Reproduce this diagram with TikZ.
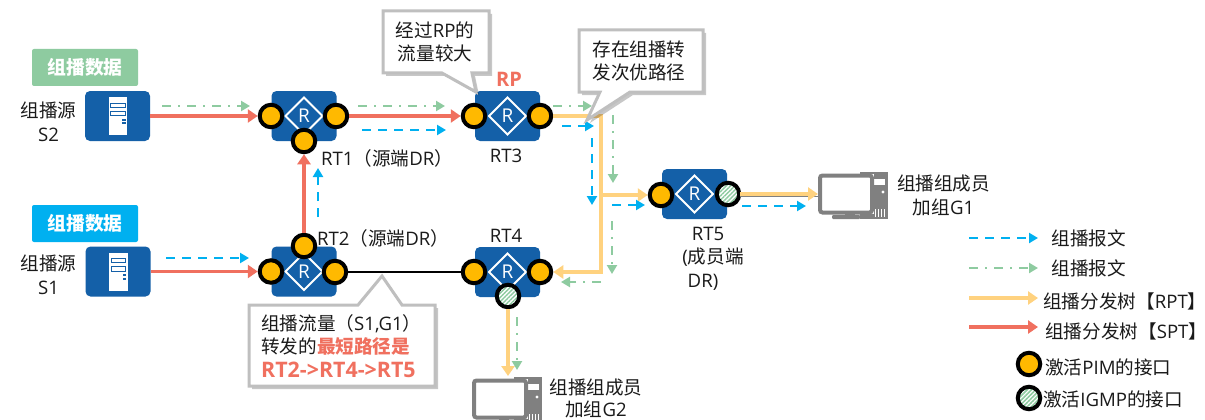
\documentclass[tikz,border=0pt]{standalone}
\usepackage{fontspec}
\setmainfont{Noto Sans CJK SC}
\newfontfamily\lat{Open Sans}
\usetikzlibrary{arrows.meta,patterns.meta}
\definecolor{rblue}{HTML}{1460A8}
\definecolor{cred}{HTML}{F0705F}
\definecolor{cyel}{HTML}{FFD27F}
\definecolor{cgrn}{HTML}{8ECBA0}
\definecolor{cblu}{HTML}{00B0F0}
\definecolor{cport}{HTML}{FFB900}
\definecolor{cbord}{HTML}{BFBFBF}
\definecolor{cpc}{HTML}{808080}
\definecolor{ctxt}{HTML}{1A1A1A}
\tikzset{
  txt/.style={inner sep=0pt,font=\fontsize{18.6pt}{23.5pt}\selectfont,text=ctxt,align=center},
  tag/.style={draw=none,rounded corners=2pt,minimum width=106pt,inner sep=0pt,text=white,font=\fontsize{18.8pt}{22pt}\selectfont\bfseries},
  router/.style={fill=rblue,rounded corners=5pt,minimum width=65pt,minimum height=50pt,inner sep=0pt,text=white,
    font=\lat\fontsize{19pt}{20pt}\selectfont,
    path picture={\draw[sharp corners,white,line width=2pt,line join=miter]
      ([xshift=-18.5pt]path picture bounding box.center) -- ([yshift=18.5pt]path picture bounding box.center)
      -- ([xshift=18.5pt]path picture bounding box.center) -- ([yshift=-18.5pt]path picture bounding box.center) -- cycle;}},
  server/.style={fill=rblue,rounded corners=5pt,minimum width=65pt,minimum height=50pt,inner sep=0pt,
    path picture={
      \begin{scope}[sharp corners]
      \fill[white] ([shift={(-9,-19)}]path picture bounding box.center) rectangle ([shift={(9.5,19)}]path picture bounding box.center);
      \draw[rblue,line width=1pt] ([shift={(-7,-13)}]path picture bounding box.center) rectangle ([shift={(7.5,-8.7)}]path picture bounding box.center);
      \draw[rblue,line width=1pt] ([shift={(-7,-5)}]path picture bounding box.center) rectangle ([shift={(7.5,-0.5)}]path picture bounding box.center);
      \fill[rblue] ([shift={(4.5,2.5)}]path picture bounding box.center) rectangle ([shift={(8,4.5)}]path picture bounding box.center);
      \fill[rblue] ([shift={(4.5,6)}]path picture bounding box.center) rectangle ([shift={(8,8)}]path picture bounding box.center);
      \end{scope}
    }},
  port/.style={circle,draw=black,line width=4pt,fill=cport,minimum size=22.5pt,inner sep=0pt},
  igmp/.style={circle,draw=black,line width=4pt,minimum size=22.5pt,inner sep=0pt,
    preaction={fill=white},pattern={Lines[angle=45,distance=3pt,line width=1.5pt]},pattern color=cgrn},
  redline/.style={draw=cred,line width=3.7pt,-{Triangle[length=10pt,width=13pt]}},
  yelline/.style={draw=cyel,line width=4pt,line join=miter,-{Triangle[length=10pt,width=13pt]}},
  blueline/.style={draw=cblu,line width=2.5pt,dash pattern=on 9pt off 7pt,-{Triangle[length=9pt,width=10pt]}},
  greenline/.style={draw=cgrn,line width=2.3pt,dash pattern=on 9pt off 7pt on 2pt off 7pt,-{Triangle[length=9pt,width=10pt]}},
  calloutbox/.style={draw=cbord,line width=3pt,fill=white,line join=miter},
  calloutshadow/.style={fill=black,opacity=.22},
  pics/pc/.style={code={
    \fill[cpc] (40,-4) rectangle (68,43);
    \fill[white] (53,3) rectangle (65,9);
    \fill[white] (63,16) circle (1.6pt);
    \foreach \q in {55,58,61,64}{\fill[white] (\q,33) rectangle ++(1.4,8);}
    \fill[cpc] (25,36) rectangle (35,40);
    \fill[cpc,rounded corners=1pt] (12,39) rectangle (40,43);
    \node[draw=white,line width=1pt,minimum width=54pt,minimum height=39pt,inner sep=0pt,fill=white] at (26,18) {};
    \node[draw=cpc,line width=4pt,fill=white,rounded corners=2.5pt,minimum width=52pt,minimum height=37pt,inner sep=0pt] (-mon) at (26,18) {};
  }}
}
\begin{document}
\begin{tikzpicture}[x=1pt,y=-1pt]
\path[use as bounding box,fill=white] (0,0) rectangle (1205,420);
\clip (0,0) rectangle (1205,420);

% junctions and free ends
\coordinate (j1) at (601,116);
\coordinate (j2) at (601,195);
\coordinate (j3) at (601,272);
\coordinate (g2top) at (508,376);

% sources and routers
\node[server] (s2) at (117.5,116) {};
\node[server] (s1) at (118,271.5) {};
\node[router] (rt1) at (304,116) {R};
\node[router] (rt3) at (507.5,116) {R};
\node[router] (rt5) at (694.5,194) {R};
\node[router] (rt2) at (304,271.5) {R};
\node[router] (rt4) at (507.5,272) {R};

\pic (pc1) at (820,176) {pc};
\pic (pc2) at (474,381) {pc};

% ports
\node[port] (rt1l) at (271,116) {};
\node[port] (rt1r) at (336,116) {};
\node[port] (rt1b) at (304,141) {};
\node[port] (rt3l) at (474,116) {};
\node[port] (rt3r) at (540,116) {};
\node[port] (rt5l) at (661,195) {};
\node[igmp] (rt5r) at (728,194) {};
\node[port] (rt2l) at (271,271.5) {};
\node[port] (rt2r) at (335,272) {};
\node[port] (rt2t) at (304,246) {};
\node[port] (rt4l) at (474,272) {};
\node[port] (rt4r) at (540,272) {};
\node[igmp] (rt4b) at (508,296) {};

\draw[redline] (s2) -- (rt1l);
\draw[redline] (s1) -- (rt2l);
\draw[redline] (rt1r) -- (rt3l);
\draw[redline] (rt2t) -- (rt1b);
\draw[black,line width=2pt] (rt2r) -- (rt4l);
\draw[yelline] (rt3r) -- (j1) -- (j3) -- (rt4r);
\draw[yelline] (j2) -- (rt5l);
\draw[cpc,line width=1pt] (rt5r.east) ++(0,2) -- ++(81,0);
\draw[yelline] (rt5r) -- (pc1-mon.west);
\draw[yelline] (rt4b) -- (g2top);

% flows
\foreach \n/\ax/\ay/\bx/\by in {a/162/106/250/106,b/358/106/445/106,c/553/106/592/106,d/613/115/613/183,e/612/221/612/274,f/601/282/561/282,g/517/317/517/370,h/969/268/1038/268}{
  \coordinate (gs\n) at (\ax,\ay);
  \coordinate (ge\n) at (\bx,\by);
  \draw[greenline] (gs\n) -- (ge\n);
}
\foreach \n/\ax/\ay/\bx/\by in {a/166/258/249/258,b/362/130/446/130,c/318/217/318/168,d/562/126/594/126,e/592/138/592/205,f/612/205/645/205,g/742/206/806/206,h/969/238/1038/238}{
  \coordinate (bs\n) at (\ax,\ay);
  \coordinate (be\n) at (\bx,\by);
  \draw[blueline] (bs\n) -- (be\n);
}

% callouts
\fill[calloutshadow] (386,14) -- (492,14) -- (492,76) -- (475,76) -- (479,95) -- (445,76) -- (386,76) -- cycle;
\draw[calloutbox] (383,11) -- (489,11) -- (489,73) -- (472,73) -- (476,92) -- (442,73) -- (383,73) -- cycle;
\fill[calloutshadow] (582,33) -- (706,33) -- (706,95) -- (633,95) -- (590,123) -- (603,95) -- (582,95) -- cycle;
\draw[calloutbox] (579,30) -- (703,30) -- (703,92) -- (630,92) -- (587,120) -- (600,92) -- (579,92) -- cycle;
\fill[calloutshadow] (252,308) -- (361,308) -- (385,279) -- (405,308) -- (438,308) -- (438,389) -- (252,389) -- cycle;
\draw[calloutbox] (249,305) -- (358,305) -- (382,276) -- (402,305) -- (435,305) -- (435,386) -- (249,386) -- cycle;

\node[txt] (n1) at (435,42) {经过{\lat RP}的\\流量较大};
\node[txt] (n2) at (639,61) {存在组播转\\发次优路径};
\node[txt,align=left,anchor=west] (n3) at (261,346) {组播流量（{\lat S1,G1}）\\转发的{\bfseries\color{cred}最短路径是}\\{\lat\bfseries\fontsize{21.4pt}{23.5pt}\selectfont\color{cred}RT2->RT4->RT5}};

% labels
\node[tag,fill=cgrn,minimum height=37pt] (tag2) at (85,67.5) {组播数据};
\node[tag,fill=cblu,minimum height=37pt] (tag1) at (85,223.5) {组播数据};
\node[txt] (ls2) at (48.5,122) {组播源\\{\lat S2}};
\node[txt] (ls1) at (48.5,275) {组播源\\{\lat S1}};
\node[txt,anchor=west] (l1) at (321,158) {{\lat RT1}（源端{\lat DR}）};
\node[txt,anchor=west] (l2) at (317,238) {{\lat RT2}（源端{\lat DR}）};
\node[txt] (l3) at (506,156) {\lat RT3};
\node[txt] (l4) at (506,236) {\lat RT4};
\node[txt] (l5) at (708,258.5) {{\lat RT5}\\\hspace*{10pt}{\lat(}成员端\\{\lat DR)}\hspace*{10pt}};
\node[font=\lat\bfseries\fontsize{20pt}{22pt}\selectfont,text=cred,inner sep=0pt] (rp) at (509,79) {RP};
\node[txt] (g1) at (943.5,195.5) {组播组成员\\加组{\lat G1}};
\node[txt,font=\fontsize{18.6pt}{21.5pt}\selectfont] (g2) at (596,398.5) {组播组成员\\加组{\lat G2}};

% legend
\coordinate (ys) at (969,298);
\coordinate (ye) at (1038,298);
\coordinate (rs) at (969,327);
\coordinate (re) at (1038,327);
\draw[yelline] (ys) -- (ye);
\draw[redline] (rs) -- (re);
\node[txt,anchor=west] (lg1) at (1051.5,238) {组播报文};
\node[txt,anchor=west] (lg2) at (1051.5,268) {组播报文};
\node[txt,anchor=west] (lg3) at (1043,301) {组播分发树【{\lat RPT}】};
\node[txt,anchor=west] (lg4) at (1045,331) {组播分发树【{\lat SPT}】};
\node[port] (lgp) at (1029,364) {};
\node[igmp] (lgi) at (1029,398) {};
\node[txt,anchor=west] (lg5) at (1045,367) {激活{\lat PIM}的接口};
\node[txt,anchor=west] (lg6) at (1043,399) {激活{\lat IGMP}的接口};
\end{tikzpicture}
\end{document}
